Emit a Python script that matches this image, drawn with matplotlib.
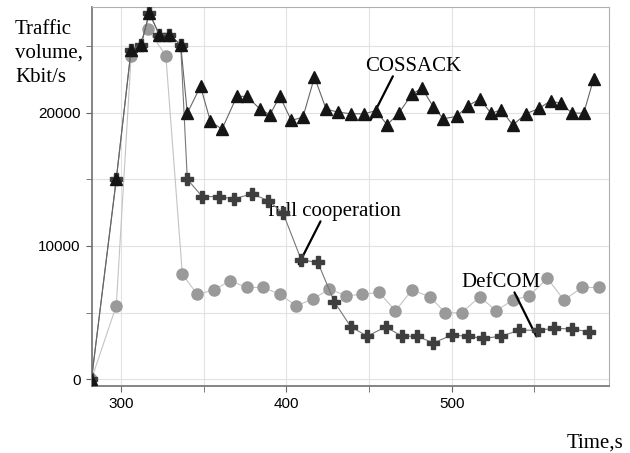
import matplotlib
matplotlib.use("Agg")
import matplotlib.pyplot as plt
from matplotlib.ticker import MultipleLocator

# time points and traffic values (Kbit/s)
t_cossack = [282, 297, 306, 312, 317, 323, 329, 336, 340, 348, 354, 361, 370, 376, 384,
             390, 396, 403, 410, 417, 424, 431, 439, 447, 454, 461, 468, 476, 482, 489,
             495, 503, 510, 517, 524, 530, 537, 545, 553, 560, 566, 573, 580, 586]
v_cossack = [0, 15000, 24740, 25110, 27490, 25860, 25860, 25110, 19970, 21980, 19350,
             18770, 21230, 21230, 20280, 19850, 21230, 19420, 19670, 22680, 20280, 20050,
             19920, 19920, 20150, 19100, 19970, 21390, 21850, 20430, 19550, 19720, 20530,
             21020, 19950, 20230, 19070, 19920, 20330, 20900, 20700, 19970, 19970, 22560]

t_full = [282, 297, 306, 312, 317, 323, 329, 336, 340, 349, 359, 368, 379, 389, 398, 409,
          419, 429, 439, 449, 460, 470, 479, 489, 500, 510, 519, 530, 541, 552, 562, 573, 583]
v_full = [0, 15000, 24740, 25110, 27490, 25860, 25860, 25110, 15010, 13710, 13710, 13530,
          13910, 13410, 12460, 8950, 8770, 5810, 3930, 3230, 3930, 3230, 3230, 2730, 3310,
          3230, 3060, 3230, 3680, 3680, 3810, 3780, 3560]

t_defcom = [282, 297, 306, 316, 327, 337, 346, 356, 366, 376, 386, 396, 406, 416, 426, 436,
            446, 456, 466, 476, 487, 496, 506, 517, 527, 537, 547, 558, 568, 579, 589]
v_defcom = [0, 5510, 24230, 26290, 24290, 7890, 6370, 6690, 7390, 6890, 6890, 6370, 5510,
            6020, 6770, 6270, 6370, 6520, 5140, 6690, 6190, 4990, 4990, 6190, 5140, 5940,
            6270, 7570, 5940, 6890, 6890]

serif = "Liberation Serif"
sans = ["Liberation Sans Narrow", "Liberation Sans", "DejaVu Sans"]

fig = plt.figure(figsize=(6.3, 4.53), dpi=100)
ax = fig.add_axes([0.146, 0.148, 0.821, 0.837])

# series
ax.plot(t_defcom, v_defcom, color="#c4c4c4", lw=0.8, marker="o", ms=8,
        mfc="#9a9a9a", mec="#9a9a9a", zorder=3)
ax.plot(t_full, v_full, color="#777777", lw=0.8, marker="P", ms=8,
        mfc="#3e3e3e", mec="#3e3e3e", zorder=4)
ax.plot(t_cossack, v_cossack, color="#666666", lw=0.8, marker="^", ms=8.5,
        mfc="#151515", mec="#151515", zorder=5)

ax.set_xlim(282.3, 595.4)
ax.set_ylim(-503, 27950)

ax.xaxis.set_major_locator(MultipleLocator(100))
ax.xaxis.set_minor_locator(MultipleLocator(50))
ax.yaxis.set_major_locator(MultipleLocator(10000))
ax.yaxis.set_minor_locator(MultipleLocator(5000))
ax.grid(which="both", color="#e2e2e2", lw=0.8)
ax.set_axisbelow(True)

ax.tick_params(which="both", direction="out", length=4, color="#666666",
               labelsize=11, pad=4)
for lab in ax.get_xticklabels() + ax.get_yticklabels():
    lab.set_family(sans)

for side in ["top", "right"]:
    ax.spines[side].set_color("#b0b0b0")
for side in ["left", "bottom"]:
    ax.spines[side].set_color("#707070")
    ax.spines[side].set_linewidth(1.2)

# annotations
ax.text(477, 23450, "COSSACK", family=serif, fontsize=15, ha="center", va="center")
ax.annotate("", xy=(450.2, 19264), xytext=(465.2, 22920),
            arrowprops=dict(arrowstyle="-", color="black", lw=1.6))
ax.text(389, 12640, "full cooperation", family=serif, fontsize=15, ha="left", va="center")
ax.annotate("", xy=(406.7, 8453), xytext=(421.4, 12035),
            arrowprops=dict(arrowstyle="-", color="black", lw=1.6))
ax.text(530, 7267, "DefCOM", family=serif, fontsize=15, ha="center", va="center")
ax.annotate("", xy=(552.1, 3026), xytext=(537.3, 6704),
            arrowprops=dict(arrowstyle="-", color="black", lw=1.6))

fig.text(15 / 630, 1 - 20 / 453, "Traffic\nvolume,\nKbit/s", family=serif, fontsize=15,
         ha="left", va="top", linespacing=1.35)
fig.text(623 / 630, 1 - 443 / 453, "Time,s", family=serif, fontsize=15,
         ha="right", va="center")

fig.savefig("out.png", dpi=100)
